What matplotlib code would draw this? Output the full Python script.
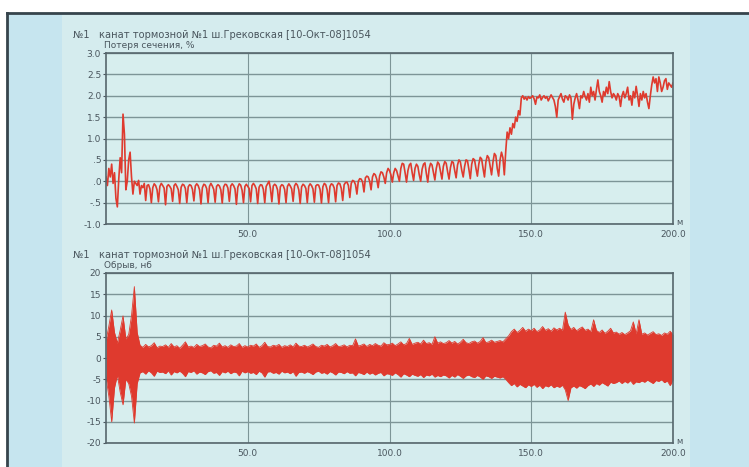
import numpy as np
import matplotlib
matplotlib.use("Agg")
import matplotlib.pyplot as plt
from matplotlib.patches import Rectangle

# --- data -------------------------------------------------------------------
title_text = "№1   канат тормозной №1 ш.Грековская [10-Окт-08]1054"
top_label = "Потеря сечения, %"
bottom_label = "Обрыв, нб"

x_ticks = [50, 100, 150, 200]
x_tick_labels = ["50.0", "100.0", "150.0", "200.0"]
top_yticks = [3.0, 2.5, 2.0, 1.5, 1.0, 0.5, 0.0, -0.5, -1.0]
top_ytick_labels = ["3.0", "2.5", "2.0", "1.5", "1.0", ".5", ".0", "-.5", "-1.0"]
bot_yticks = [20, 15, 10, 5, 0, -5, -10, -15, -20]
bot_ytick_labels = ["20", "15", "10", "5", "0", "-5", "-10", "-15", "-20"]

# loss of section, %, every 0.5 m from 0 to 200 m
loss_x = np.arange(0, 200.5, 0.5)
loss = [
    0.1, -0.1, 0.3, 0.1, 0.4, -0.05, 0.2, -0.4, -0.6, 0.05,
    0.55, 0.2, 1.57, 1.1, -0.2, 0.0, 0.5, 0.68, 0.1, -0.3,
    0.0, -0.05, -0.1, 0.02, -0.3, -0.1, -0.15, -0.05, -0.45, -0.1,
    -0.08, -0.18, -0.5, -0.15, -0.06, -0.1, -0.2, -0.48, -0.12, -0.05,
    -0.1, -0.16, -0.55, -0.12, -0.08, -0.12, -0.18, -0.47, -0.1, -0.06,
    -0.12, -0.2, -0.52, -0.14, -0.07, -0.09, -0.17, -0.5, -0.13, -0.08,
    -0.1, -0.19, -0.46, -0.11, -0.06, -0.1, -0.2, -0.53, -0.15, -0.07,
    -0.09, -0.17, -0.5, -0.12, -0.05, -0.11, -0.19, -0.49, -0.12, -0.08,
    -0.11, -0.2, -0.51, -0.13, -0.07, -0.08, -0.16, -0.47, -0.11, -0.06,
    -0.1, -0.18, -0.54, -0.14, -0.06, -0.09, -0.21, -0.5, -0.12, -0.07,
    -0.12, -0.17, -0.48, -0.1, -0.05, -0.1, -0.18, -0.52, -0.14, -0.08,
    -0.09, -0.19, -0.5, -0.12, -0.06, 0.0, -0.17, -0.48, -0.11, -0.07,
    -0.1, -0.2, -0.53, -0.13, -0.08, -0.1, -0.19, -0.5, -0.12, -0.06,
    -0.11, -0.18, -0.47, -0.11, -0.05, -0.09, -0.2, -0.52, -0.13, -0.07,
    -0.1, -0.17, -0.5, -0.12, -0.06, -0.1, -0.18, -0.49, -0.11, -0.08,
    -0.09, -0.19, -0.51, -0.13, -0.05, -0.08, -0.2, -0.5, -0.12, -0.06,
    -0.08, -0.16, -0.48, -0.1, -0.04, -0.06, -0.17, -0.45, -0.08, -0.03,
    -0.02, -0.1, -0.38, -0.05, 0.02, 0.0, -0.08, -0.3, 0.0, 0.06,
    0.05, -0.02, -0.25, 0.08, 0.12, 0.1, 0.0, -0.2, 0.1, 0.18,
    0.15, 0.05, -0.15, 0.12, 0.22, 0.2, 0.1, -0.05, 0.2, 0.3,
    0.25, 0.15, -0.02, 0.2, 0.3, 0.25, 0.12, 0.0, 0.3, 0.42,
    0.4, 0.2, -0.02, 0.25, 0.38, 0.42, 0.2, 0.02, 0.3, 0.4,
    0.35, 0.15, 0.0, 0.28, 0.4, 0.43, 0.18, -0.02, 0.3, 0.42,
    0.38, 0.2, 0.03, 0.3, 0.45, 0.4, 0.22, 0.05, 0.35, 0.46,
    0.42, 0.22, 0.05, 0.32, 0.46, 0.44, 0.25, 0.08, 0.38, 0.5,
    0.45, 0.25, 0.1, 0.35, 0.5, 0.48, 0.28, 0.06, 0.4, 0.53,
    0.5, 0.3, 0.12, 0.4, 0.56, 0.52, 0.3, 0.1, 0.45, 0.6,
    0.55, 0.35, 0.15, 0.45, 0.65, 0.6, 0.3, 0.12, 0.5, 0.68,
    0.55, 0.15, 0.7, 1.15, 1.0, 1.25, 1.1, 1.35, 1.25, 1.5,
    1.4, 1.65, 1.55, 1.95, 2.0, 1.92, 1.97, 1.9, 1.98, 1.94,
    1.96, 2.0, 1.93, 1.8, 1.97, 1.95, 2.02, 1.9, 1.96, 2.0,
    1.94, 1.98, 1.88, 1.95, 2.02, 1.96, 1.9, 1.75, 1.5, 1.9,
    1.98, 2.05, 1.92, 1.85, 2.0, 1.97, 1.9, 2.02, 1.95, 1.45,
    1.8, 1.95, 2.05, 1.9, 1.7, 2.0, 1.95, 2.1, 1.98, 1.9,
    2.05, 1.85, 2.2, 2.0, 2.1, 1.9, 2.15, 2.37, 2.1, 2.0,
    1.85, 2.1, 2.0, 2.2, 2.05, 2.33, 2.1, 1.95, 2.05, 2.0,
    1.9, 2.05, 1.98, 1.75, 2.0, 2.1, 1.95, 2.05, 2.2, 1.9,
    2.0, 1.78, 2.1, 1.95, 2.22, 2.0, 1.75, 2.05, 1.9, 2.1,
    1.95, 2.05, 1.85, 1.7, 2.0, 2.25, 2.44, 2.3, 2.4, 2.1,
    2.44, 2.3, 2.1, 2.2, 2.35, 2.4, 2.15, 2.3, 2.25, 2.2,
    2.3,
]

# break signal: upper / lower envelope of the trace, every 1 m
brk_x = np.arange(0, 201, 1)
brk_hi = [
    4.0, 7.5, 11.3, 6.0, 3.5, 6.5, 9.9, 4.5, 5.5, 10.0,
    16.8, 6.0, 3.0, 2.5, 3.2, 2.6, 2.9, 3.6, 2.4, 2.8,
    2.7, 3.1, 2.5, 3.4, 2.6, 2.9, 2.3, 3.0, 3.8, 2.6,
    2.8, 2.5, 3.2, 2.7, 2.9, 3.3, 2.6, 2.4, 3.0, 2.8,
    3.5, 2.6, 2.9, 2.5, 3.1, 2.7, 2.8, 3.4, 2.5, 2.9,
    2.6, 3.0, 2.8, 3.3, 2.5, 2.9, 3.7, 2.7, 2.6, 3.0,
    2.8, 3.2, 2.5, 2.9, 2.7, 3.1, 2.6, 3.5, 2.8, 2.7,
    3.0, 2.6, 2.9, 3.3, 2.7, 2.5, 3.0, 2.8, 3.2, 2.6,
    2.9, 3.4, 2.7, 2.8, 3.1, 2.6, 3.0, 2.9, 4.5, 2.8,
    3.0, 3.3, 2.7, 3.2, 2.9, 3.4, 3.0, 2.8, 3.6, 3.1,
    3.2, 3.5, 2.9, 3.3, 3.8, 3.1, 3.4, 4.6, 3.2, 3.5,
    3.7, 3.3, 4.2, 3.4, 3.6, 3.2, 5.0, 3.5, 3.8, 3.4,
    3.6, 4.1, 3.5, 3.9, 3.3, 3.7, 4.4, 3.6, 3.4, 3.8,
    4.0, 3.5, 3.9, 4.8, 3.6, 3.8, 4.2, 3.7, 3.9, 4.1,
    3.8, 4.5, 5.2, 6.2, 6.8, 6.0, 6.5, 7.2, 6.3, 6.8,
    6.4, 7.0, 6.2, 6.6, 7.4, 6.5, 6.9, 6.3, 7.1, 6.6,
    7.0, 6.5, 10.8, 7.8, 6.7, 7.2, 6.4, 6.9, 7.3, 6.5,
    6.8, 6.2, 9.0, 6.5, 6.0, 6.6, 5.8, 6.3, 7.0, 5.9,
    6.1, 5.6, 6.0, 5.5, 5.9, 6.4, 8.5, 5.7, 9.0, 5.6,
    5.9, 5.4, 5.8, 6.2, 5.5, 5.7, 5.3, 5.9, 5.6, 6.3,
    5.5,
]
brk_lo = [
    -4.5, -9.0, -15.0, -7.0, -4.0, -8.0, -11.0, -5.0, -6.0, -9.0,
    -15.3, -6.0, -3.5, -3.2, -3.8, -3.0, -3.5, -4.3, -3.1, -3.4,
    -3.3, -3.7, -3.0, -4.0, -3.2, -3.5, -3.1, -3.6, -4.4, -3.2,
    -3.4, -3.0, -3.8, -3.3, -3.5, -3.9, -3.2, -3.0, -3.6, -3.4,
    -4.1, -3.2, -3.5, -3.1, -3.7, -3.3, -3.4, -4.2, -3.1, -3.5,
    -3.2, -3.6, -3.4, -3.9, -3.1, -3.5, -4.5, -3.3, -3.2, -3.6,
    -3.4, -3.8, -3.1, -3.5, -3.3, -3.7, -3.2, -4.3, -3.4, -3.3,
    -3.6, -3.2, -3.5, -3.9, -3.3, -3.1, -3.6, -3.4, -3.8, -3.2,
    -3.5, -4.0, -3.3, -3.4, -3.7, -3.2, -3.6, -3.5, -4.2, -3.4,
    -3.6, -3.9, -3.3, -3.8, -3.5, -4.0, -3.6, -3.4, -4.2, -3.7,
    -3.8, -4.1, -3.5, -3.9, -4.5, -3.7, -4.0, -4.4, -3.8, -4.1,
    -4.3, -3.9, -4.6, -4.0, -4.2, -3.8, -4.5, -4.1, -4.4, -4.0,
    -4.2, -4.7, -4.1, -4.5, -3.9, -4.3, -4.8, -4.2, -4.0, -4.4,
    -4.6, -4.1, -4.5, -5.0, -4.2, -4.4, -4.8, -4.3, -4.5, -4.7,
    -4.4, -5.0, -5.8, -6.5, -6.0, -6.8, -6.2, -6.6, -7.0, -6.3,
    -6.7, -6.2, -6.9, -6.4, -7.2, -6.5, -6.8, -6.3, -7.0, -6.6,
    -6.9, -6.4, -7.5, -10.0, -7.0, -6.6, -7.1, -6.5, -6.8, -7.2,
    -6.5, -6.1, -6.7, -6.0, -6.4, -5.8, -6.2, -6.6, -5.7, -6.0,
    -5.8, -5.4, -6.0, -5.5, -5.9, -5.3, -6.2, -5.6, -5.8, -5.4,
    -5.7, -5.2, -5.6, -6.0, -5.3, -5.5, -5.1, -5.8, -5.4, -6.5,
    -5.2,
]

# --- layout (pixel based, 749x467) ------------------------------------------
W, H = 749, 467
RED = "#df3a2e"
TXT = "#4a565e"
GRID = "#7d9597"
SPINE = "#56666c"


def fx(px):
    return px / W


def fy(py):
    return 1 - py / H


fig = plt.figure(figsize=(W / 100, H / 100), dpi=100)
fig.patch.set_facecolor("white")

# panel background: side strips, pale middle, dark frame
fig.add_artist(Rectangle((fx(7), 0), fx(749 - 7), fy(13), transform=fig.transFigure,
                         facecolor="#c6e5ef", edgecolor="none", zorder=0))
fig.add_artist(Rectangle((fx(62), 0), fx(690 - 62), fy(14), transform=fig.transFigure,
                         facecolor="#d5ecee", edgecolor="none", zorder=0))
fig.add_artist(plt.Line2D([fx(7), 1], [fy(13), fy(13)], transform=fig.transFigure,
                          color="#36444c", lw=2.0))
fig.add_artist(plt.Line2D([fx(7), fx(7)], [fy(13), 0], transform=fig.transFigure,
                          color="#36444c", lw=2.0))


def make_axes(top, bottom, yticks, ylabels, ylim):
    ax = fig.add_axes([fx(106), fy(bottom), fx(673 - 106), (bottom - top) / H])
    ax.set_facecolor("#d7eeee")
    ax.set_xlim(0, 200)
    ax.set_ylim(*ylim)
    ax.set_xticks(x_ticks)
    ax.set_xticklabels(x_tick_labels)
    ax.set_yticks(yticks)
    ax.set_yticklabels(ylabels)
    ax.tick_params(axis="x", length=0, pad=4, labelsize=6.5, colors=TXT)
    ax.tick_params(axis="y", length=2, pad=1.5, labelsize=6.5, colors=TXT, width=0.8)
    ax.grid(True, axis="y", color=GRID, lw=1.0)
    ax.grid(True, axis="x", color=GRID, lw=0.8)
    ax.set_axisbelow(True)
    for s in ax.spines.values():
        s.set_color(SPINE)
        s.set_linewidth(1.2)
    return ax


ax1 = make_axes(53, 224, top_yticks, top_ytick_labels, (-1.0, 3.0))
ax1.plot(loss_x, loss, color=RED, lw=1.2)

ax2 = make_axes(273, 443, bot_yticks, bot_ytick_labels, (-20, 20))
ax2.fill_between(brk_x, brk_lo, brk_hi, color=RED, lw=0)
ax2.plot(brk_x, brk_hi, color=RED, lw=0.6)
ax2.plot(brk_x, brk_lo, color=RED, lw=0.6)

# headers and unit labels
for y_title, y_sub, sub, y_unit in [(35, 46, top_label, 222), (255, 265, bottom_label, 441)]:
    fig.text(fx(73), fy(y_title), title_text, fontsize=7.1, color=TXT, va="center", ha="left")
    fig.text(fx(104), fy(y_sub), sub, fontsize=6.5, color=TXT, va="center", ha="left")
    fig.text(fx(679), fy(y_unit), "м", fontsize=6, color=TXT, va="center", ha="center")

fig.savefig("out.png", dpi=100)
